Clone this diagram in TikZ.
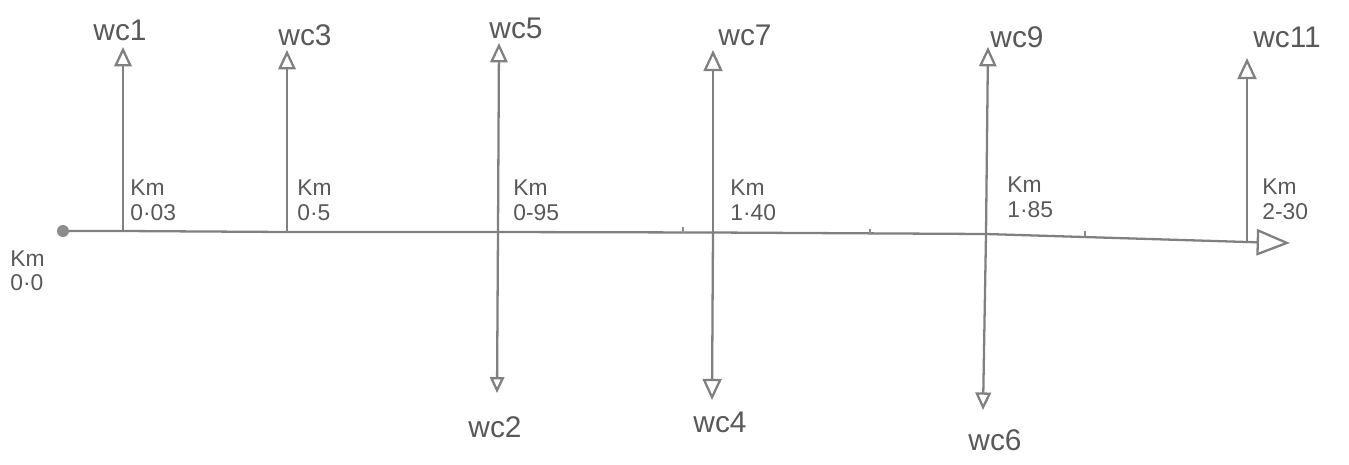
\documentclass[tikz,border=0pt]{standalone}
\usepackage{fontspec}
\setmainfont{Liberation Sans}
\usetikzlibrary{arrows.meta}
\begin{document}
\begin{tikzpicture}[x=0.02cm, y=-0.02cm,
  pencil/.style={draw=black!50, line width=1.3pt, line cap=round},
  opentip/.style={-{Triangle[open, length=#1, width=0.9*#1]}},
  opentip/.default=10pt,
  wclabel/.style={text=black!65, inner sep=0pt, font=\fontsize{17}{18}\selectfont},
  kmlabel/.style={text=black!65, inner sep=0pt, align=left, anchor=south west,
                  font=\fontsize{13}{14}\selectfont},
  tick/.style={draw=black!45, line width=0.8pt}]
\useasboundingbox (0,0) rectangle (1349,464);

% points on the chainage axis
\coordinate (start) at (63,231);
\coordinate (p1) at (123,231);
\coordinate (p2) at (287,232);
\coordinate (p3) at (498,232);
\coordinate (p4) at (713,232.5);
\coordinate (p5) at (986,234);
\coordinate (p6) at (1247,242);
\coordinate (finish) at (1290,243);

% arrow tips above and below the axis
\coordinate (u1) at (123,47);
\coordinate (u2) at (287,50);
\coordinate (u3) at (499,43);
\coordinate (d3) at (497,393);
\coordinate (u4) at (713,50);
\coordinate (d4) at (712,400);
\coordinate (u5) at (988,47);
\coordinate (d5) at (983,410);
\coordinate (u6) at (1247,58);

% axis
\draw[pencil, -{Triangle[open, length=19pt, width=15pt]}]
  (start) -- (p1) -- (p2) -- (p3) -- (p4) -- (p5) -- (p6) -- (finish);
\fill[black!45] (start) circle (6);

% small pencil ticks along the axis
\draw[tick] (683,227) -- (683,233);
\draw[tick] (870,229) -- (870,234);
\draw[tick] (1085,231) -- (1085,236);

% outflows (up) and inflows (down)
\draw[pencil, opentip=11pt] (p1) -- (u1);
\draw[pencil, opentip=11pt] (p2) -- (u2);
\draw[pencil, opentip=11pt] (p3) -- (u3);
\draw[pencil, opentip=9pt] (p3) -- (d3);
\draw[pencil, opentip=12pt] (p4) -- (u4);
\draw[pencil, opentip=12pt] (p4) -- (d4);
\draw[pencil, opentip=11pt] (p5) -- (u5);
\draw[pencil, opentip=10pt] (p5) -- (d5);
\draw[pencil, opentip=12pt] (p6) -- (u6);

% labels
\node[wclabel] (wc1) at (120,30) {wc1};
\node[wclabel] (wc3) at (305,35) {wc3};
\node[wclabel] (wc5) at (516,28) {wc5};
\node[wclabel] (wc7) at (745,35) {wc7};
\node[wclabel] (wc9) at (1017,37) {wc9};
\node[wclabel] (wc11) at (1287,37) {wc11};
\node[wclabel] (wc2) at (495,427) {wc2};
\node[wclabel] (wc4) at (720,422) {wc4};
\node[wclabel] (wc6) at (995,440) {wc6};

\node[kmlabel, anchor=north west] (k0) at (10,250) {Km\\0·0};
\node[kmlabel] (k1) at (130,221) {Km\\0·03};
\node[kmlabel] (k2) at (297,221) {Km\\0·5};
\node[kmlabel] (k3) at (513,221) {Km\\0-95};
\node[kmlabel] (k4) at (730,221) {Km\\1·40};
\node[kmlabel] (k5) at (1007,218) {Km\\1·85};
\node[kmlabel] (k6) at (1262,220) {Km\\2-30};
\end{tikzpicture}
\end{document}
